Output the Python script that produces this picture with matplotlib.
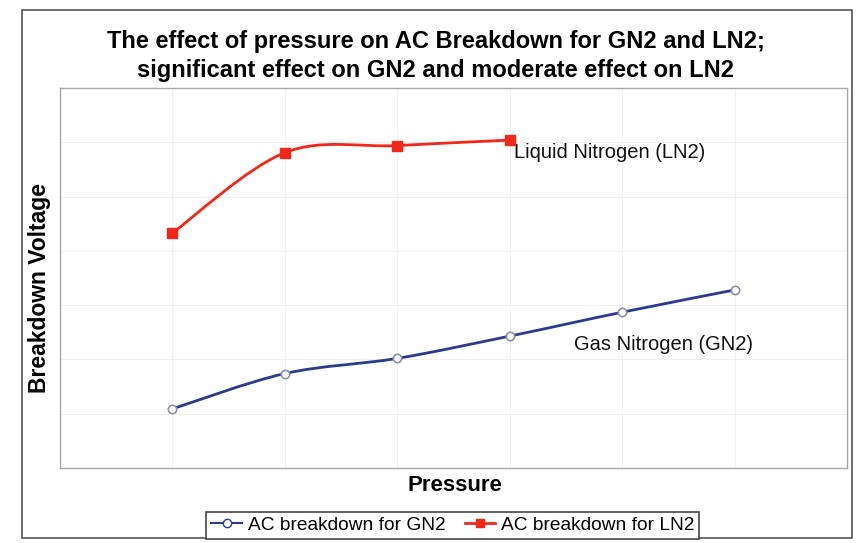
import numpy as np
import matplotlib
matplotlib.use("Agg")
import matplotlib.pyplot as plt
from matplotlib.path import Path
from matplotlib.patches import PathPatch, Rectangle
from matplotlib.lines import Line2D

plt.rcParams["font.family"] = ["Liberation Sans", "DejaVu Sans"]

# Pressure steps (categories, no labels shown) and breakdown voltage (arbitrary units)
pressure_steps = [1, 2, 3, 4, 5, 6]
gn2_voltage = [1.09, 1.74, 2.02, 2.43, 2.87, 3.28]
ln2_steps = [1, 2, 3, 4]
ln2_voltage = [4.33, 5.81, 5.94, 6.04]

title_lines = ["The effect of pressure on AC Breakdown for GN2 and LN2;",
               "significant effect on GN2 and moderate effect on LN2"]
gn2_label = "AC breakdown for GN2"
ln2_label = "AC breakdown for LN2"

GN2_COLOR = "#2B3A8C"
GN2_MARKER = "#8C90A8"
LN2_COLOR = "#F0281A"


def smooth_path(xs, ys):
    # Excel-style smoothed line as cubic bezier segments
    pts = np.column_stack([xs, ys]).astype(float)
    n = len(pts)
    verts = [pts[0]]
    codes = [Path.MOVETO]
    for i in range(n - 1):
        p_prev = pts[i - 1] if i > 0 else pts[i]
        p_next2 = pts[i + 2] if i + 2 < n else pts[i + 1]
        c1 = pts[i] + (pts[i + 1] - p_prev) / 6.0
        c2 = pts[i + 1] - (p_next2 - pts[i]) / 6.0
        verts += [c1, c2, pts[i + 1]]
        codes += [Path.CURVE4] * 3
    return Path(verts, codes)


fig = plt.figure(figsize=(8.56, 5.43), dpi=100)
ax = fig.add_axes([0.0701, 0.1381, 0.9194, 0.6998])

# very faint grid
ax.set_xlim(0, 7)
ax.set_ylim(0, 7)
ax.set_xticks(range(1, 7))
ax.set_yticks(range(1, 7))
ax.grid(True, color="#F0F0F0", linewidth=0.8)
ax.tick_params(length=0, labelbottom=False, labelleft=False)
for s in ax.spines.values():
    s.set_color("#A8A8A8")
    s.set_linewidth(1.0)

# smoothed lines
ax.add_patch(PathPatch(smooth_path(pressure_steps, gn2_voltage), facecolor="none",
                       edgecolor=GN2_COLOR, linewidth=2.0, zorder=3))
ax.add_patch(PathPatch(smooth_path(ln2_steps, ln2_voltage), facecolor="none",
                       edgecolor=LN2_COLOR, linewidth=2.0, zorder=3))

# markers
ax.plot(pressure_steps, gn2_voltage, linestyle="none", marker="o", markersize=6,
        markerfacecolor="white", markeredgecolor=GN2_MARKER, markeredgewidth=1.2, zorder=4)
ax.plot(ln2_steps, ln2_voltage, linestyle="none", marker="s", markersize=7,
        color=LN2_COLOR, zorder=4)

# series labels
ax.annotate("Liquid Nitrogen (LN2)", xy=(ln2_steps[-1], ln2_voltage[-1]),
            xytext=(3, -9), textcoords="offset points", ha="left", va="center",
            fontsize=14.5, color="#111111")
ax.annotate("Gas Nitrogen (GN2)", xy=(pressure_steps[4], gn2_voltage[4]),
            xytext=(-35, -23), textcoords="offset points", ha="left", va="center",
            fontsize=14.5, color="#111111")

# titles
fig.text(0.509, 0.9227, title_lines[0], ha="center", va="center",
         fontsize=17, fontweight="bold")
fig.text(0.509, 0.8710, title_lines[1], ha="center", va="center",
         fontsize=17, fontweight="bold")
fig.text(0.0467, 0.4696, "Breakdown Voltage", ha="center", va="center",
         rotation=90, fontsize=16.5, fontweight="bold")
fig.text(0.5315, 0.1068, "Pressure", ha="center", va="center",
         fontsize=16, fontweight="bold")

# chart border
fig.patches.append(Rectangle((0.0257, 0.0092), 0.9696, 0.9725, transform=fig.transFigure,
                             fill=False, edgecolor="#555555", linewidth=1.2))

# legend
handles = [
    Line2D([], [], color=GN2_COLOR, linewidth=1.5, marker="o", markersize=6,
           markerfacecolor="white", markeredgecolor=GN2_COLOR),
    Line2D([], [], color=LN2_COLOR, linewidth=2.0, marker="s", markersize=6),
]
leg = fig.legend(handles, [gn2_label, ln2_label], loc="center",
                 bbox_to_anchor=(0.529, 0.0331), ncol=2, fontsize=13.8,
                 frameon=True, fancybox=False, handlelength=1.6, handletextpad=0.3,
                 columnspacing=1.0, borderpad=0.25, borderaxespad=0)
leg.get_frame().set_edgecolor("#444444")
leg.get_frame().set_linewidth(1.2)
leg.get_frame().set_alpha(1)

fig.savefig("out.png", dpi=100)
plt.close(fig)
